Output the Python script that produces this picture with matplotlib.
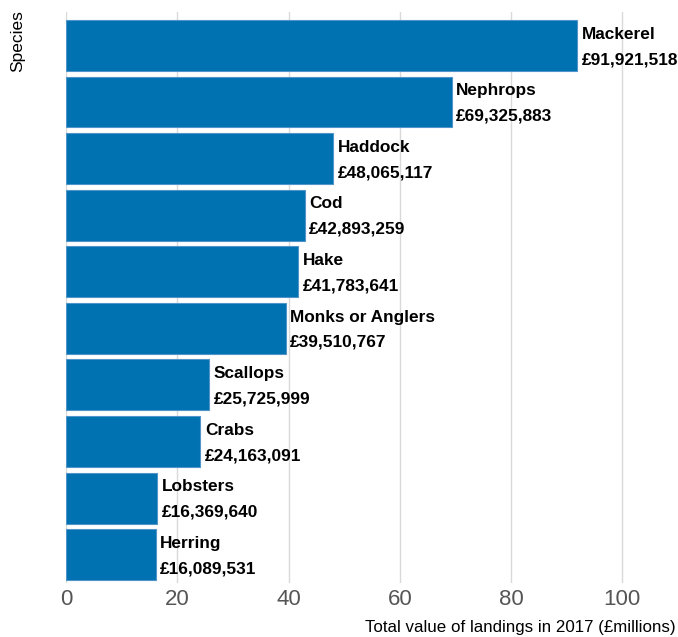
import numpy as np
import matplotlib.pyplot as plt

plt.rcParams['font.family'] = ['Liberation Sans', 'DejaVu Sans']

species = ["Mackerel", "Nephrops", "Haddock", "Cod", "Hake",
           "Monks or Anglers", "Scallops", "Crabs", "Lobsters", "Herring"]
values = [91921518, 69325883, 48065117, 42893259, 41783641,
          39510767, 25725999, 24163091, 16369640, 16089531]

vals_m = np.array(values) / 1e6
ypos = np.arange(len(species))

fig = plt.figure(figsize=(6.78, 6.37), dpi=100)
ax = fig.add_axes([66 / 678, 54 / 637, 612 / 678, 571 / 637])

ax.barh(ypos, vals_m, height=0.9, color='#0071b1', edgecolor='#4f95c9',
        linewidth=0.8, zorder=2)

for y, v, name in zip(ypos, vals_m, species):
    ax.text(v + 0.8, y - 0.2, name, ha='left', va='center',
            fontsize=12.4, fontweight='bold', color='black', zorder=3)
    ax.text(v + 0.8, y + 0.25, "£{:,}".format(int(round(v * 1e6))),
            ha='left', va='center', fontsize=12.4, fontweight='bold',
            color='black', zorder=3)

ax.set_xlim(0, 110)
ax.set_ylim(len(species) - 0.5, -0.59)
ax.set_xticks([0, 20, 40, 60, 80, 100])
ax.set_yticks([])
ax.tick_params(axis='x', length=0, labelsize=16, labelcolor='#555555', pad=4)
ax.grid(axis='x', color='#d9d9d9', linewidth=1, zorder=0)
ax.set_axisbelow(True)
for s in ax.spines.values():
    s.set_visible(False)

fig.text(676 / 678, 2 / 637, "Total value of landings in 2017 (£millions)",
         ha='right', va='bottom', fontsize=12.2)
fig.text(10 / 678, 1 - 10 / 637, "Species", rotation=90,
         ha='left', va='top', fontsize=12.5)

fig.savefig("out.png", dpi=100)
